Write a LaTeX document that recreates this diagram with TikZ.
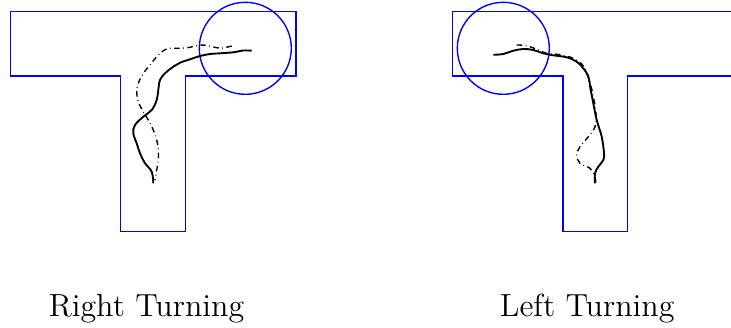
\documentclass[tikz,border=0pt]{standalone}
\usetikzlibrary{positioning}

\begin{document}
\begin{tikzpicture}[
  x=0.4pt, y=-0.4pt,
  wall/.style={draw=blue, line width=0.55pt},
  zone/.style={draw=blue, line width=0.55pt},
  real/.style={draw=black, line width=0.75pt, line join=round},
  pred/.style={draw=black, line width=0.55pt, dash pattern=on 2.2pt off 1.4pt on 0.3pt off 1.4pt},
  caption/.style={font=\fontsize{12.8}{15}\selectfont, anchor=base}
]
\useasboundingbox (0,0) rectangle (731,327);
\clip (0,0) rectangle (731,327);

% right turning
\draw[wall] (10.3,11.7) -- (296,11.7) -- (296,76) -- (185.3,76) -- (185.3,231.7)
  -- (120.7,231.7) -- (120.7,76) -- (10.3,76) -- cycle;
\draw[zone] (245.3,48.3) circle (46);
\draw[real] plot[smooth, tension=0.6] coordinates {
  (251.7,50.7) (243,50.5) (233.3,52.3) (220,53.3) (210,54) (200,56) (190,59.3)
  (180,62.7) (173.3,66.7) (165,73.3) (160,80) (158.3,90) (156.7,100) (151.7,110)
  (143.3,116.7) (135,125) (133.3,133.3) (136.7,143.3) (140,153.3) (145,163.3)
  (151.7,171.7) (153.3,183.3)};
\draw[pred] plot[smooth, tension=0.6] coordinates {
  (231.7,46) (220,48.3) (210,46) (200,45) (190,47.3) (180,48.3) (170,48.3)
  (163.3,50.7) (156.7,56.7) (150,65) (143.3,73.3) (138.3,83.3) (136.7,91.7)
  (138.3,101.7) (143.3,111.7) (148.3,120) (153.3,130) (156.7,140) (158.3,150)
  (158.3,160) (156.7,170) (155,180)};
\node[caption] (rcap) at (146.5,316.7) {Right Turning};

% left turning
\draw[wall] (452.7,11.7) -- (738.4,11.7) -- (738.4,76) -- (627.7,76) -- (627.7,231.7)
  -- (563.1,231.7) -- (563.1,76) -- (452.7,76) -- cycle;
\draw[zone] (503.3,48.3) circle (46);
\draw[real] plot[smooth, tension=0.6] coordinates {
  (493.3,54.8) (503.3,54) (513.3,50.7) (523.3,49) (533.3,50) (543.3,53.3)
  (553.3,55.3) (566.7,57.3) (576.7,61.7) (583.3,68.3) (588.3,76.7) (590.7,90)
  (593.3,103.3) (596.7,120) (601.7,136.7) (604,153.3) (603.3,160) (598.3,166.7)
  (595,173.3) (595,183.3)};
\draw[pred] plot[smooth, tension=0.6] coordinates {
  (516.7,45) (526.7,45.7) (536.7,49.3) (546.7,53.3) (560,54.7) (573.3,58.3)
  (583.3,66) (589.3,80) (593.3,96.7) (596,113.3) (595,126.7) (588.3,136.7)
  (580,146.7) (576.7,155) (580,163.3) (590,168.3) (595,176.7) (595.7,183.3)};
\node[caption] (lcap) at (587.2,316.7) {Left Turning};
\end{tikzpicture}
\end{document}
